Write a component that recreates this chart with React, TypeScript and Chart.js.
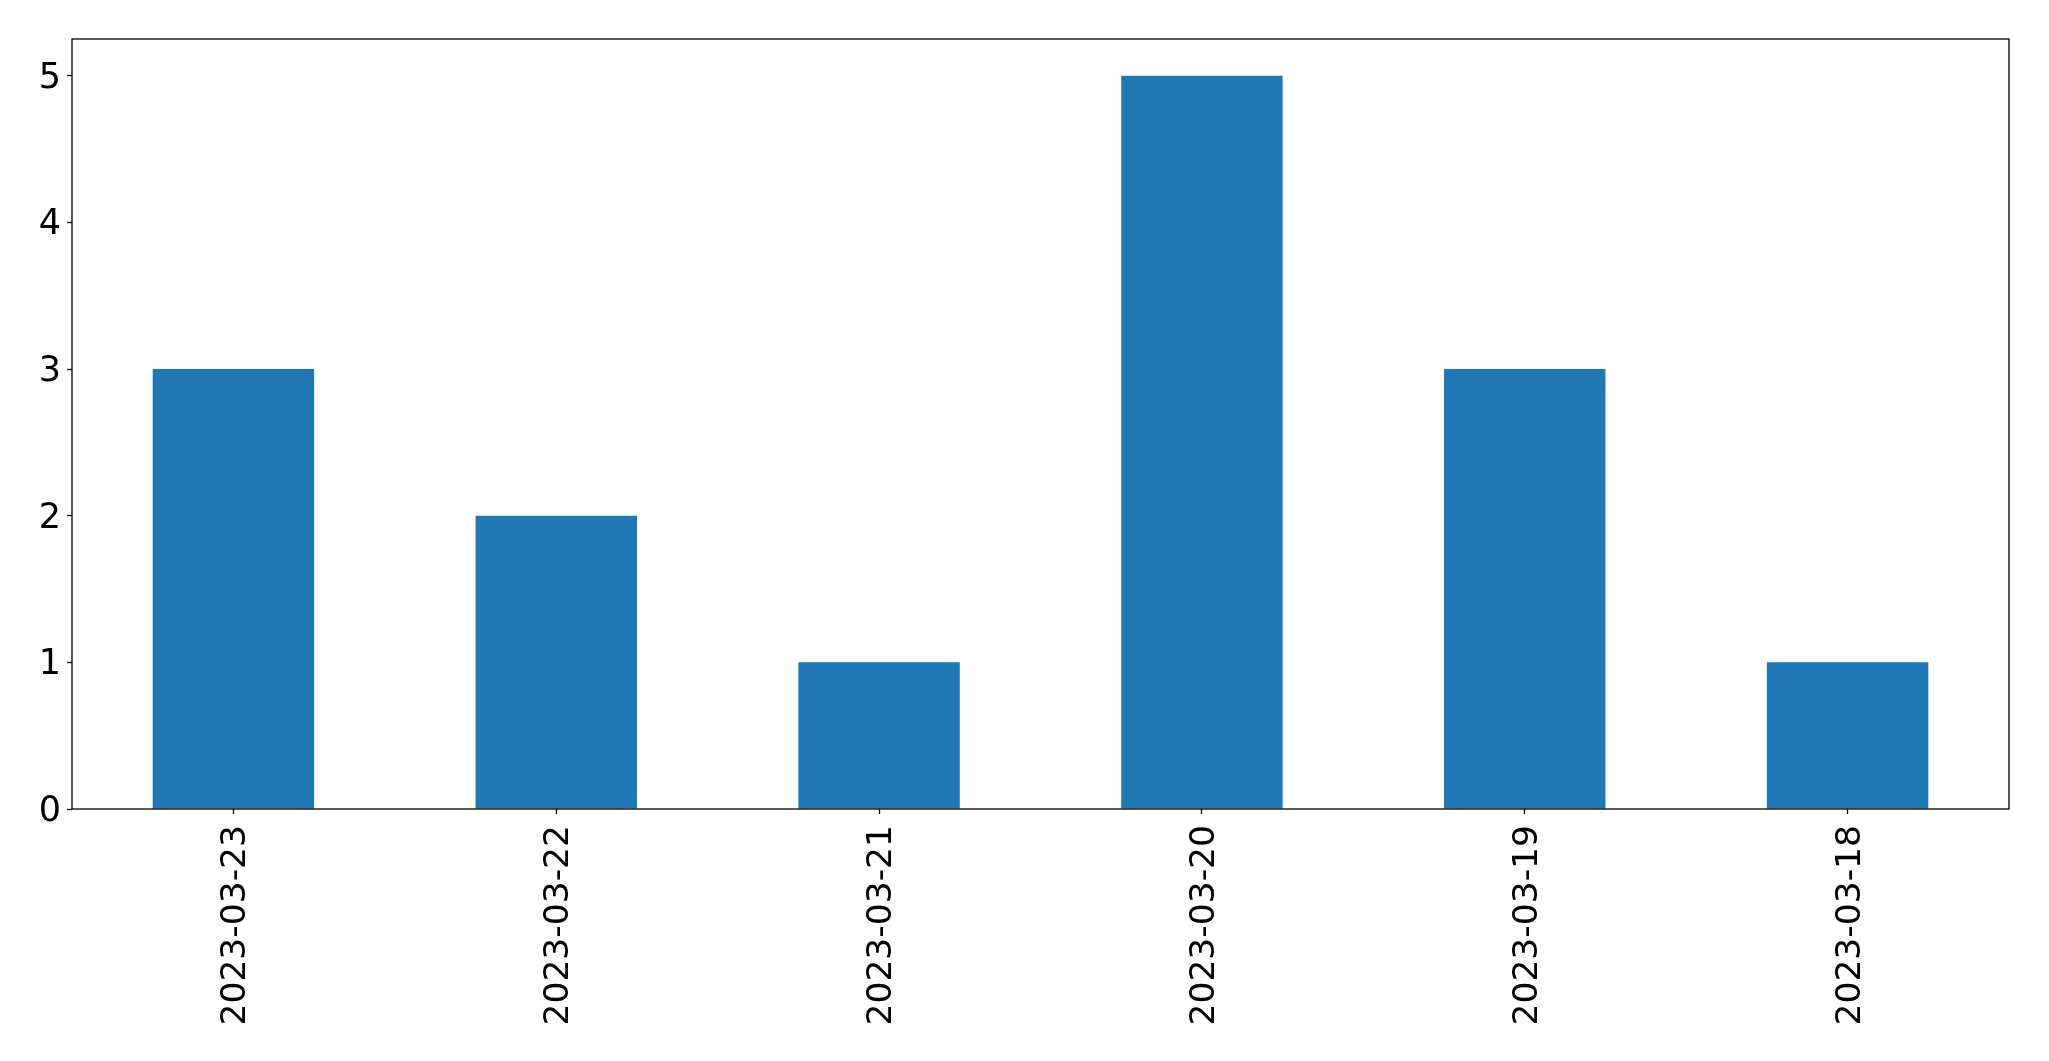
import React, { useEffect, useRef } from "react";
import { Chart, registerables } from "chart.js";

Chart.register(...registerables);

const categories = ["2023-03-23", "2023-03-22", "2023-03-21", "2023-03-20", "2023-03-19", "2023-03-18"];
const counts = [3, 2, 1, 5, 3, 1];
const yTicks = [0, 1, 2, 3, 4, 5];
const yMax = 5.25;

const frame = {
  id: "frame",
  afterDraw(chart: any) {
    const { ctx, chartArea } = chart;
    ctx.save();
    ctx.strokeStyle = "#000";
    ctx.lineWidth = 1.3;
    ctx.strokeRect(chartArea.left, chartArea.top, chartArea.right - chartArea.left, chartArea.bottom - chartArea.top);
    ctx.restore();
  },
};

export default function App() {
  const ref = useRef<HTMLCanvasElement | null>(null);
  useEffect(() => {
    document.body.style.margin = "0";
    const xFont = { family: "'DejaVu Sans', sans-serif", size: 34.5 };
    const yFont = { family: "'DejaVu Sans', sans-serif", size: 35 };
    const chart = new Chart(ref.current!, {
      type: "bar",
      data: {
        labels: categories,
        datasets: [
          {
            data: counts,
            backgroundColor: "#1f77b4",
            borderWidth: 0,
            categoryPercentage: 1,
            barPercentage: 0.5,
          },
        ],
      },
      options: {
        animation: false,
        responsive: false,
        maintainAspectRatio: false,
        layout: { padding: { top: 39, right: 40, left: 0, bottom: 0 } },
        plugins: { legend: { display: false }, tooltip: { enabled: false } },
        scales: {
          x: {
            offset: true,
            afterFit(scale: any) {
              scale.height = 252;
            },
            grid: { display: true, offset: false, drawOnChartArea: false, drawTicks: true, tickLength: 5, color: "#000", tickWidth: 1.3 },
            border: { display: false },
            ticks: { color: "#000", font: xFont, minRotation: 90, maxRotation: 90, padding: 11, autoSkip: false, labelOffset: 3 },
          },
          y: {
            min: 0,
            max: yMax,
            afterFit(scale: any) {
              scale.width = 72;
            },
            afterBuildTicks(scale: any) {
              scale.ticks = yTicks.map((v) => ({ value: v }));
            },
            grid: { display: true, drawOnChartArea: false, drawTicks: true, tickLength: 5, color: "#000", tickWidth: 1.3 },
            border: { display: false },
            ticks: { color: "#000", font: yFont, padding: 6, labelOffset: 3 },
          },
        },
      },
      plugins: [frame],
    });
    return () => chart.destroy();
  }, []);
  return (
    <div style={{ width: 2049, height: 1061, background: "#fff" }}>
      <canvas ref={ref} width={2049} height={1061} style={{ display: "block" }} />
    </div>
  );
}
